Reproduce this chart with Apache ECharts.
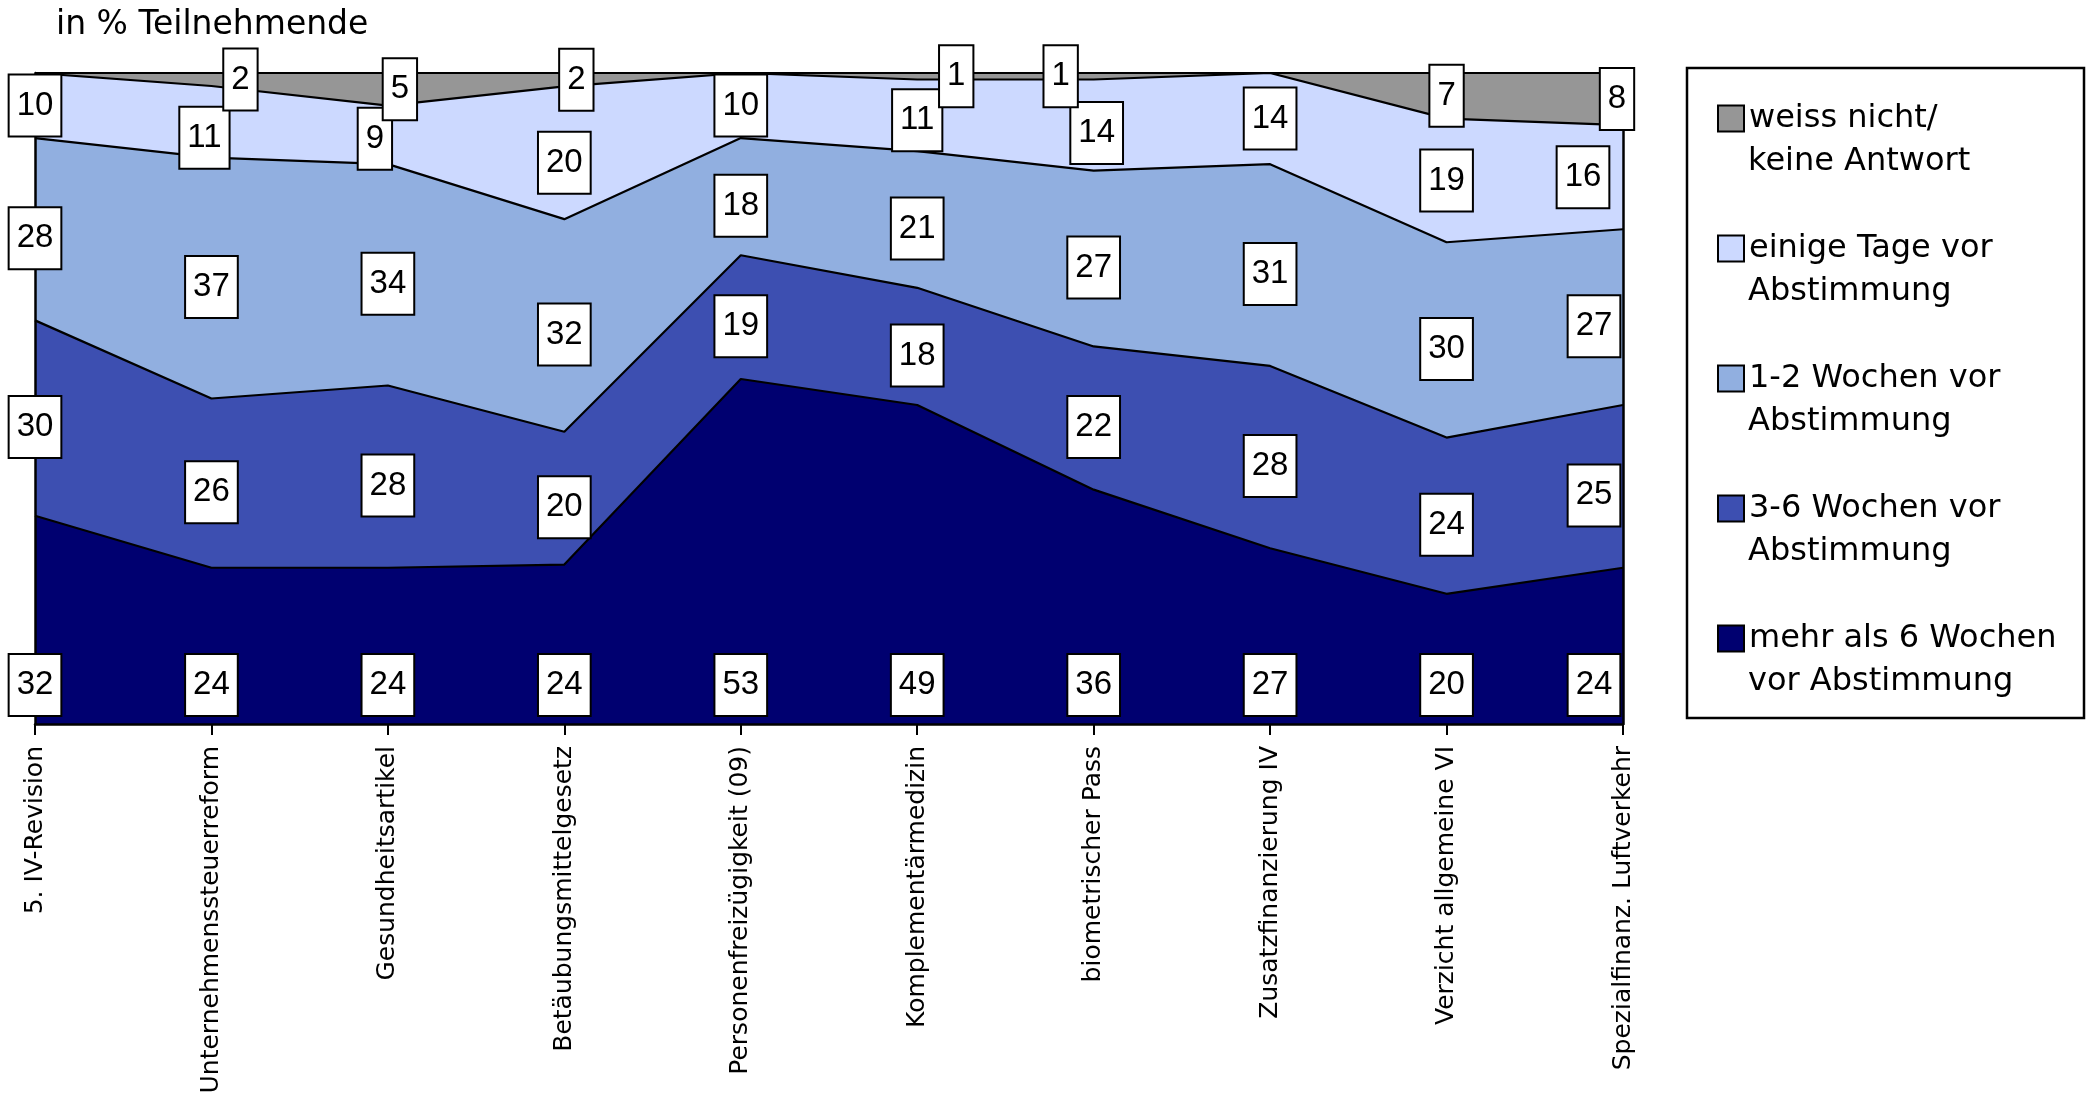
<!DOCTYPE html>
<html>
<head>
<meta charset="utf-8">
<script src="https://cdn.jsdelivr.net/npm/echarts@6/dist/echarts.min.js"></script>
<style>
html,body{margin:0;padding:0;background:#fff;overflow:hidden;}
#chart{width:2092px;height:1102px;}
</style>
</head>
<body>
<div id="chart"></div>
<script>
const categories = ['5. IV-Revision','Unternehmenssteuerreform','Gesundheitsartikel','Betäubungsmittelgesetz','Personenfreizügigkeit (09)','Komplementärmedizin','biometrischer Pass','Zusatzfinanzierung IV','Verzicht allgemeine VI','Spezialfinanz. Luftverkehr'];
const mehrAls6Wochen = [32,24,24,24,53,49,36,27,20,24];
const wochen3bis6 = [30,26,28,20,19,18,22,28,24,25];
const wochen1bis2 = [28,37,34,32,18,21,27,31,30,27];
const einigeTage = [10,11,9,20,10,11,14,14,19,16];
const weissNicht = [0,2,5,2,0,1,1,0,7,8];
const seriesNames = ['mehr als 6 Wochen\nvor Abstimmung','3-6 Wochen vor\nAbstimmung','1-2 Wochen vor\nAbstimmung','einige Tage vor\nAbstimmung','weiss nicht/\nkeine Antwort'];
const seriesColors = ['#000070','#3D4FB1','#91AFE0','#CCD9FF','#969696'];
const titleText = 'in % Teilnehmende';

// pixel nudges for crowded value labels ("band-category": [dx, dy])
const labelNudge = {
  '4-1': [29, 0], '4-2': [12, 0], '4-3': [12, 0], '4-5': [39, 0], '4-6': [-33, 0], '4-9': [-6, 0],
  '3-1': [-7, 16], '3-2': [-13, 4], '3-3': [0, 10], '3-5': [0, 5], '3-6': [3, 8], '3-9': [-40, 0]
};
// general vertical label shift per band (px)
const bandLabelShift = [-39, 9, 9, 0, 0];

const bands = [mehrAls6Wochen, wochen3bis6, wochen1bis2, einigeTage, weissNicht];
const totals = categories.map((_, i) => bands.reduce((s, b) => s + b[i], 0));
const normBands = bands.map(b => b.map((v, i) => v / totals[i] * 100));
const last = categories.length - 1;
const FONT = '"DejaVu Sans", Verdana, sans-serif';

const series = [];
bands.forEach((b, k) => {
  series.push({
    name: seriesNames[k],
    type: 'line',
    stack: 'total',
    data: normBands[k],
    symbol: 'none',
    z: 10 - k,
    color: seriesColors[k],
    itemStyle: {color: seriesColors[k]},
    lineStyle: {color: '#000', width: 2.2},
    areaStyle: {color: seriesColors[k], opacity: 1},
    emphasis: {disabled: true},
    animation: false
  });
});

// value labels (white boxes)
bands.forEach((b, k) => {
  const data = categories.map((_, i) => {
    let base = 0;
    for (let j = 0; j < k; j++) base += normBands[j][i];
    const y = k === 0 ? 0 : base + normBands[k][i] / 2;
    let off = [i === last ? -29 : 0, bandLabelShift[k]];
    const n = labelNudge[k + '-' + i];
    if (n) off = [n[0], off[1] + n[1]];
    const item = {value: [i, y, b[i]], label: {offset: off}};
    if (b[i] === 0) item.label.show = false;
    return item;
  });
  series.push({
    type: 'scatter',
    data: data,
    symbolSize: 1,
    itemStyle: {color: 'rgba(255,255,255,0)', opacity: 1},
    z: 30 + k,
    silent: true,
    animation: false,
    emphasis: {disabled: true},
    label: {
      show: true,
      position: 'inside',
      opacity: 1,
      formatter: p => String(p.value[2]),
      fontFamily: '"Liberation Sans", Arial, sans-serif',
      fontSize: 33,
      lineHeight: 38,
      color: '#000',
      backgroundColor: '#fff',
      borderColor: '#000',
      borderWidth: 2,
      padding: [11, 7, 11, 7]
    }
  });
});

const legendNames = seriesNames.slice().reverse();
const legendBase = {
  orient: 'vertical',
  left: 1712,
  itemGap: 87,
  itemWidth: 26,
  itemHeight: 26,
  icon: 'rect',
  selectedMode: false,
  data: legendNames,
  textStyle: {fontFamily: FONT, fontSize: 32, lineHeight: 43, color: '#000'}
};

const chart = echarts.init(document.getElementById('chart'), null, {renderer: 'canvas'});
chart.setOption({
  backgroundColor: '#fff',
  animation: false,
  title: {
    text: titleText,
    left: 51,
    top: 4,
    textStyle: {fontFamily: FONT, fontSize: 33, fontWeight: 'normal', color: '#000'}
  },
  grid: {left: 35, right: 469, top: 73, bottom: 378, containLabel: false, outerBoundsMode: 'none'},
  xAxis: {
    type: 'category',
    data: categories,
    boundaryGap: false,
    z: 20,
    axisLine: {show: true, lineStyle: {color: '#000', width: 2.5}},
    axisTick: {show: true, length: 11, lineStyle: {color: '#000', width: 2}},
    axisLabel: {rotate: 90, interval: 0, margin: 22, fontFamily: FONT, fontSize: 25, color: '#000'},
    splitLine: {show: false}
  },
  yAxis: [
    {type: 'value', min: 0, max: 100, position: 'left', z: 20,
     axisLine: {show: true, lineStyle: {color: '#000', width: 2.5}},
     axisTick: {show: false}, axisLabel: {show: false}, splitLine: {show: false}},
    {type: 'value', min: 0, max: 100, position: 'right', z: 20,
     axisLine: {show: true, lineStyle: {color: '#000', width: 2.5}},
     axisTick: {show: false}, axisLabel: {show: false}, splitLine: {show: false}}
  ],
  legend: [
    Object.assign({}, legendBase, {
      top: 92,
      itemStyle: {borderColor: '#000', borderWidth: 2},
      formatter: name => name.split('\n')[0]
    }),
    Object.assign({}, legendBase, {
      top: 135,
      itemStyle: {opacity: 0, borderWidth: 0},
      formatter: name => name.split('\n')[1]
    })
  ],
  graphic: [{
    type: 'rect',
    shape: {x: 1687, y: 68, width: 397, height: 650},
    style: {fill: 'none', stroke: '#000', lineWidth: 2.5},
    silent: true
  }],
  series: series
});
</script>
</body>
</html>
